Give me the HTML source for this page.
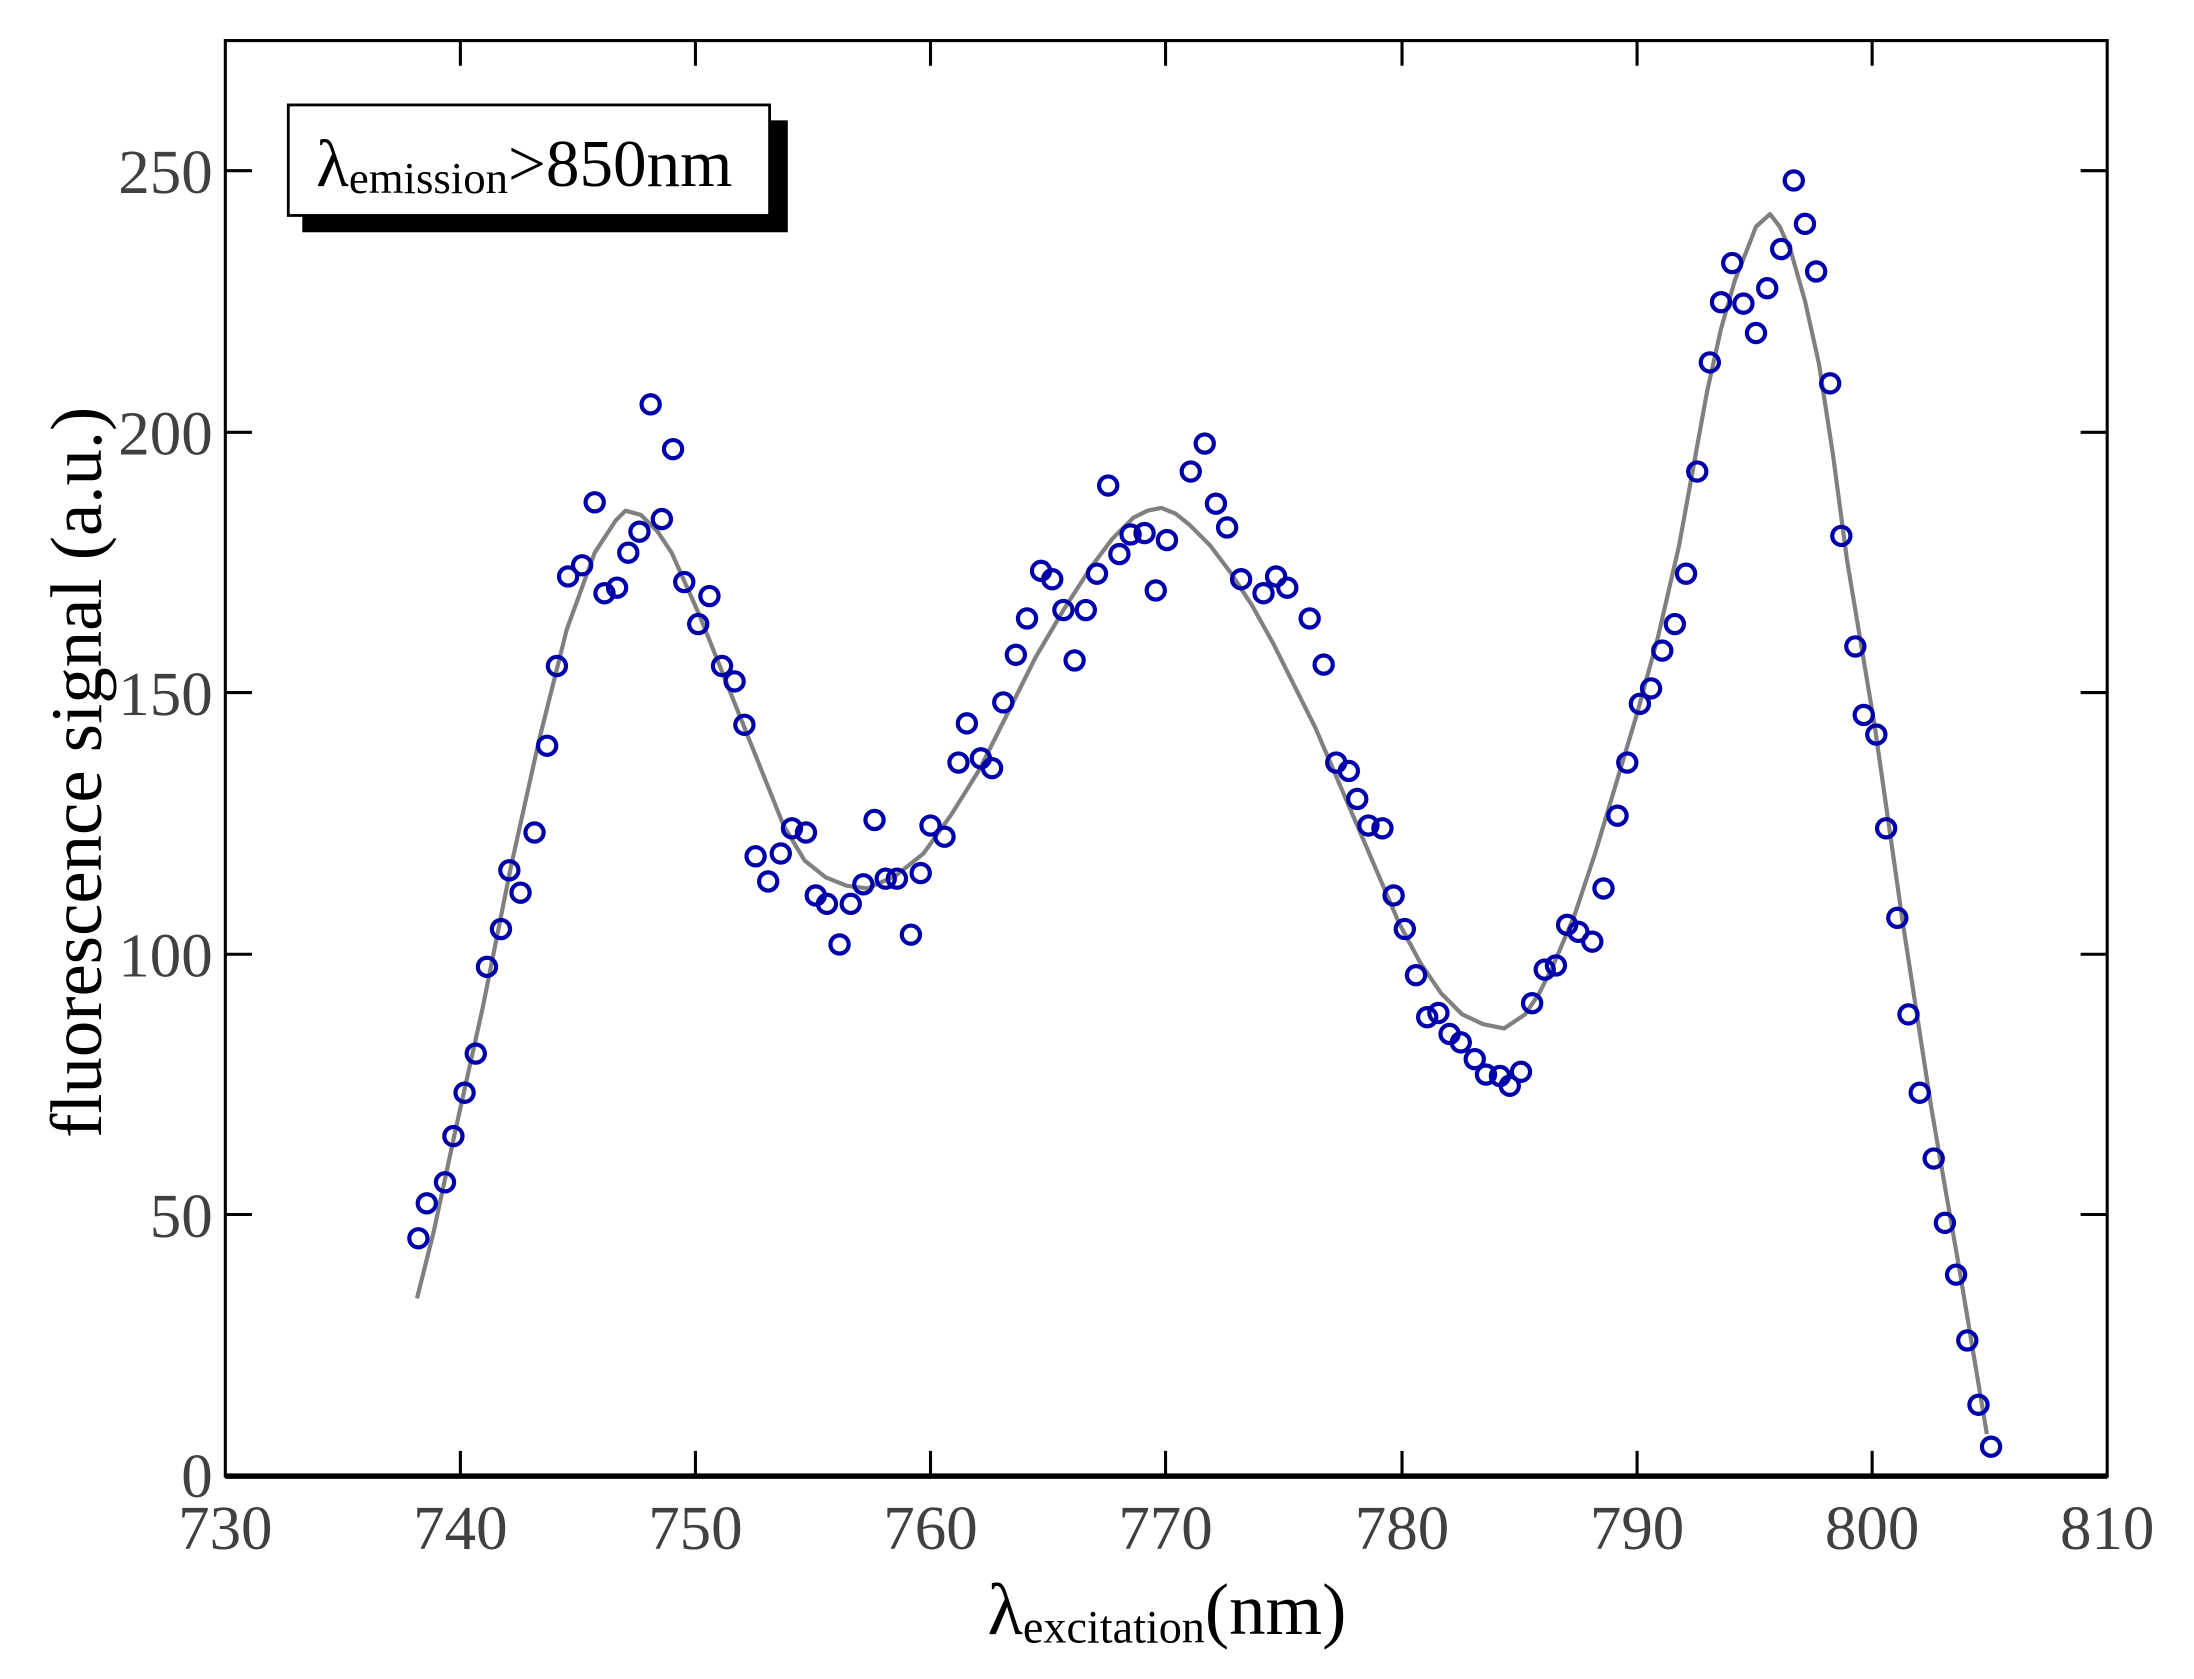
<!DOCTYPE html>
<html><head><meta charset="utf-8"><style>html,body{margin:0;padding:0;background:#fff}svg{display:block}</style></head>
<body>
<svg width="2194" height="1679" viewBox="0 0 1568 1200" xmlns="http://www.w3.org/2000/svg" font-family="'Liberation Serif', serif">
<rect width="1568" height="1200" fill="#fff"/>
<g stroke="#000" stroke-width="2.2" fill="none">
<rect x="161" y="29" width="1345" height="1026"/>
<line x1="161" y1="1055" x2="1506" y2="1055" stroke-width="4"/>
<path d="M329 1055v-18M497 1055v-18M665 1055v-18M833 1055v-18M1002 1055v-18M1170 1055v-18M1338 1055v-18
M329 29v18M497 29v18M665 29v18M833 29v18M1002 29v18M1170 29v18M1338 29v18
M161 868h19M161 682h19M161 495h19M161 309h19M161 122h19
M1506 868h-19M1506 682h-19M1506 495h-19M1506 309h-19M1506 122h-19"/>
</g>
<g fill="#404040" font-size="45" text-anchor="end">
<text x="152" y="1070">0</text><text x="152" y="884">50</text><text x="152" y="698">100</text>
<text x="152" y="511">150</text><text x="152" y="325">200</text><text x="152" y="138">250</text>
</g>
<g fill="#404040" font-size="45" text-anchor="middle">
<text x="161" y="1107">730</text><text x="329" y="1107">740</text><text x="497" y="1107">750</text>
<text x="665" y="1107">760</text><text x="833" y="1107">770</text><text x="1002" y="1107">780</text>
<text x="1170" y="1107">790</text><text x="1338" y="1107">800</text><text x="1506" y="1107">810</text>
</g>
<text transform="translate(72,552) rotate(-90)" text-anchor="middle" font-size="52">fluorescence signal (a.u.)</text>
<text x="834" y="1168" text-anchor="middle" font-size="52">λ<tspan font-size="33" dy="6">excitation</tspan><tspan dy="-6">(nm)</tspan></text>
<rect x="216" y="86" width="347" height="80" fill="#000"/>
<rect x="206" y="75" width="344" height="79" fill="#fff" stroke="#000" stroke-width="2"/>
<text x="226" y="133" font-size="48">λ<tspan font-size="32" dy="5">emission</tspan><tspan dy="-5">&gt;850nm</tspan></text>
<polyline fill="none" stroke="#808080" stroke-width="3" stroke-linejoin="round" points="298,928 310,880 325,810 345,720 365,620 385,530 405,450 425,395 440,372 447,365 458,368 470,380 480,395 500,440 520,490 540,540 560,590 575,615 590,627 605,633 620,635 640,626 660,610 680,582 700,550 720,510 740,470 760,436 780,405 795,385 810,370 820,365 830,363 840,367 850,375 865,390 880,410 895,433 910,460 925,490 940,520 955,555 970,590 985,625 1000,660 1015,688 1030,710 1045,725 1060,732 1075,735 1090,725 1100,710 1110,690 1125,655 1140,610 1155,560 1170,510 1185,455 1200,390 1210,335 1220,280 1230,235 1240,200 1248,180 1255,162 1265,153 1272,162 1280,180 1290,215 1300,260 1310,325 1320,400 1330,460 1340,520 1350,590 1360,660 1370,725 1380,790 1390,848 1400,905 1410,965 1420,1025"/>
<g fill="none" stroke="#0000aa" stroke-width="3">
<circle cx="299" cy="885" r="6.5"/><circle cx="305" cy="860" r="6.5"/><circle cx="318" cy="845" r="6.5"/><circle cx="324" cy="812" r="6.5"/><circle cx="332" cy="781" r="6.5"/><circle cx="340" cy="753" r="6.5"/><circle cx="348" cy="691" r="6.5"/><circle cx="358" cy="664" r="6.5"/><circle cx="364" cy="622" r="6.5"/><circle cx="372" cy="638" r="6.5"/><circle cx="382" cy="595" r="6.5"/><circle cx="391" cy="533" r="6.5"/><circle cx="398" cy="476" r="6.5"/><circle cx="406" cy="412" r="6.5"/><circle cx="416" cy="404" r="6.5"/><circle cx="425" cy="359" r="6.5"/><circle cx="432" cy="424" r="6.5"/><circle cx="441" cy="420" r="6.5"/><circle cx="449" cy="395" r="6.5"/><circle cx="457" cy="380" r="6.5"/><circle cx="465" cy="289" r="6.5"/><circle cx="473" cy="371" r="6.5"/><circle cx="481" cy="321" r="6.5"/><circle cx="489" cy="416" r="6.5"/><circle cx="499" cy="446" r="6.5"/><circle cx="507" cy="426" r="6.5"/><circle cx="516" cy="476" r="6.5"/><circle cx="525" cy="487" r="6.5"/><circle cx="532" cy="518" r="6.5"/><circle cx="540" cy="612" r="6.5"/><circle cx="549" cy="630" r="6.5"/><circle cx="558" cy="610" r="6.5"/><circle cx="566" cy="592" r="6.5"/><circle cx="576" cy="595" r="6.5"/><circle cx="583" cy="640" r="6.5"/><circle cx="591" cy="646" r="6.5"/><circle cx="600" cy="675" r="6.5"/><circle cx="608" cy="646" r="6.5"/><circle cx="617" cy="632" r="6.5"/><circle cx="625" cy="586" r="6.5"/><circle cx="633" cy="628" r="6.5"/><circle cx="641" cy="628" r="6.5"/><circle cx="651" cy="668" r="6.5"/><circle cx="658" cy="624" r="6.5"/><circle cx="665" cy="590" r="6.5"/><circle cx="675" cy="598" r="6.5"/><circle cx="685" cy="545" r="6.5"/><circle cx="691" cy="517" r="6.5"/><circle cx="701" cy="542" r="6.5"/><circle cx="709" cy="549" r="6.5"/><circle cx="717" cy="502" r="6.5"/><circle cx="726" cy="468" r="6.5"/><circle cx="734" cy="442" r="6.5"/><circle cx="744" cy="408" r="6.5"/><circle cx="752" cy="414" r="6.5"/><circle cx="760" cy="436" r="6.5"/><circle cx="768" cy="472" r="6.5"/><circle cx="776" cy="436" r="6.5"/><circle cx="784" cy="410" r="6.5"/><circle cx="792" cy="347" r="6.5"/><circle cx="800" cy="396" r="6.5"/><circle cx="808" cy="382" r="6.5"/><circle cx="818" cy="381" r="6.5"/><circle cx="826" cy="422" r="6.5"/><circle cx="834" cy="386" r="6.5"/><circle cx="851" cy="337" r="6.5"/><circle cx="861" cy="317" r="6.5"/><circle cx="869" cy="360" r="6.5"/><circle cx="877" cy="377" r="6.5"/><circle cx="887" cy="414" r="6.5"/><circle cx="903" cy="424" r="6.5"/><circle cx="912" cy="412" r="6.5"/><circle cx="920" cy="420" r="6.5"/><circle cx="936" cy="442" r="6.5"/><circle cx="946" cy="475" r="6.5"/><circle cx="955" cy="545" r="6.5"/><circle cx="964" cy="551" r="6.5"/><circle cx="970" cy="571" r="6.5"/><circle cx="978" cy="590" r="6.5"/><circle cx="988" cy="592" r="6.5"/><circle cx="996" cy="640" r="6.5"/><circle cx="1004" cy="664" r="6.5"/><circle cx="1012" cy="697" r="6.5"/><circle cx="1020" cy="727" r="6.5"/><circle cx="1028" cy="724" r="6.5"/><circle cx="1036" cy="739" r="6.5"/><circle cx="1044" cy="745" r="6.5"/><circle cx="1054" cy="757" r="6.5"/><circle cx="1062" cy="768" r="6.5"/><circle cx="1072" cy="769" r="6.5"/><circle cx="1079" cy="776" r="6.5"/><circle cx="1087" cy="766" r="6.5"/><circle cx="1095" cy="717" r="6.5"/><circle cx="1104" cy="693" r="6.5"/><circle cx="1112" cy="690" r="6.5"/><circle cx="1120" cy="661" r="6.5"/><circle cx="1128" cy="666" r="6.5"/><circle cx="1138" cy="673" r="6.5"/><circle cx="1146" cy="635" r="6.5"/><circle cx="1156" cy="583" r="6.5"/><circle cx="1163" cy="545" r="6.5"/><circle cx="1172" cy="503" r="6.5"/><circle cx="1180" cy="492" r="6.5"/><circle cx="1188" cy="465" r="6.5"/><circle cx="1197" cy="446" r="6.5"/><circle cx="1205" cy="410" r="6.5"/><circle cx="1213" cy="337" r="6.5"/><circle cx="1222" cy="259" r="6.5"/><circle cx="1230" cy="216" r="6.5"/><circle cx="1238" cy="188" r="6.5"/><circle cx="1246" cy="217" r="6.5"/><circle cx="1255" cy="238" r="6.5"/><circle cx="1263" cy="206" r="6.5"/><circle cx="1273" cy="178" r="6.5"/><circle cx="1282" cy="129" r="6.5"/><circle cx="1290" cy="160" r="6.5"/><circle cx="1298" cy="194" r="6.5"/><circle cx="1308" cy="274" r="6.5"/><circle cx="1316" cy="383" r="6.5"/><circle cx="1326" cy="462" r="6.5"/><circle cx="1332" cy="511" r="6.5"/><circle cx="1341" cy="525" r="6.5"/><circle cx="1348" cy="592" r="6.5"/><circle cx="1356" cy="656" r="6.5"/><circle cx="1364" cy="725" r="6.5"/><circle cx="1372" cy="781" r="6.5"/><circle cx="1382" cy="828" r="6.5"/><circle cx="1390" cy="874" r="6.5"/><circle cx="1398" cy="911" r="6.5"/><circle cx="1406" cy="958" r="6.5"/><circle cx="1414" cy="1004" r="6.5"/><circle cx="1423" cy="1034" r="6.5"/>
</g>
</svg>
</body></html>
